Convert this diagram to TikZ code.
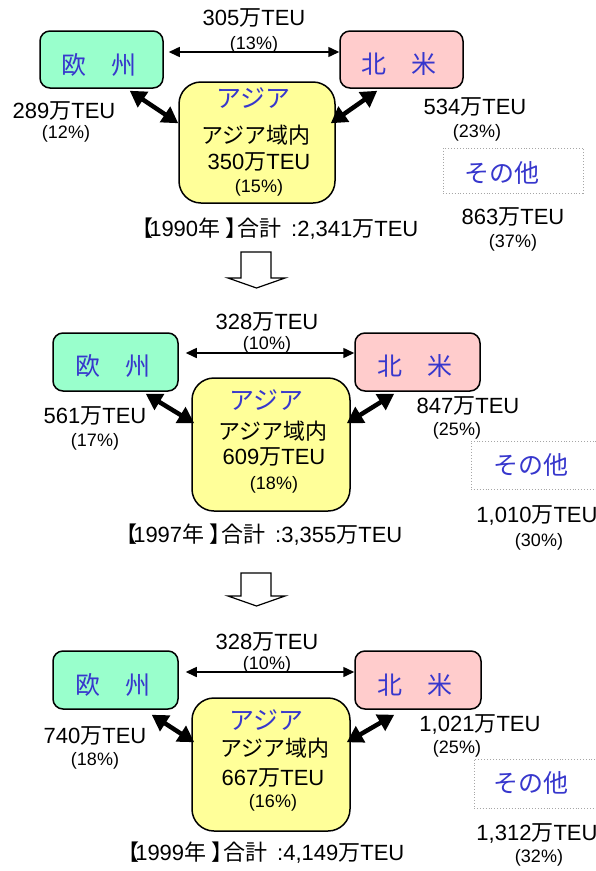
\documentclass[tikz,border=0pt]{standalone}
\usepackage{fontspec}
\setmainfont{Liberation Sans}
\newfontfamily\jpf{Noto Sans CJK JP}
\usetikzlibrary{arrows.meta,calc}
\newcommand{\wan}{{\jpf 万}}
\newcommand{\yeartitle}[2]{{\jpf 【}\kern-0.2em#1{\jpf 年 】\kern-0.45em合計}\hspace{0.45em}:#2\wan TEU}
\definecolor{eucol}{HTML}{99FFCC}
\definecolor{nacol}{HTML}{FFCCCC}
\definecolor{asiacol}{HTML}{FFFF99}
\definecolor{bluetxt}{RGB}{55,55,205}
\tikzset{
  region/.style={draw=black, line width=1.5pt, rounded corners=10pt, inner sep=0},
  asiabox/.style={draw=black, line width=1.5pt, rounded corners=22pt, fill=asiacol, inner sep=0},
  otherbox/.style={draw=gray!70, dotted, line width=0.9pt, fill=white, inner sep=0},
  lbl/.style={inner sep=0, font=\fontsize{22}{24}\selectfont},
  pct/.style={inner sep=0, font=\fontsize{18}{20}\selectfont},
  jlbl/.style={inner sep=0, font=\jpf\fontsize{22}{24}\selectfont},
  bluejp/.style={inner sep=0, text=bluetxt, font=\jpf\fontsize{25}{28}\selectfont},
  harrow/.style={line width=1.5pt, {Triangle[length=11pt,width=10pt]}-{Triangle[length=11pt,width=10pt]}},
  tarrow/.style={line width=4.5pt, {Triangle[length=16pt,width=18pt]}-{Triangle[length=16pt,width=18pt]}},
  blockarrow/.style={draw=black, line width=1.2pt, fill=white, line join=miter}
}
\begin{document}
\begin{tikzpicture}[x=1pt,y=-1pt]
\useasboundingbox[fill=white] (0,0) rectangle (596,871);

% ---------------- Panel 1 (1990) ----------------
\node[region, fill=eucol, minimum width=123pt, minimum height=57pt] (EU1) at (101.5,59.5) {};
\node[region, fill=nacol, minimum width=123pt, minimum height=57pt] (NA1) at (401.5,59.5) {};
\node[asiabox, minimum width=156pt, minimum height=121pt] (AS1) at (257,142.5) {};
\node[otherbox, minimum width=140pt, minimum height=45pt] (OT1) at (513,170.5) {};
\node[bluejp] (EU1t) at ($(EU1.center)+(-3,5)$) {欧　州};
\node[bluejp] (NA1t) at ($(NA1.center)+(-3,5)$) {北　米};
\node[bluejp] (OT1t) at (502,173) {その他};
\node[bluejp] (AS1t) at (253,98) {アジア};
\node[jlbl] (AS1a) at (256,135) {アジア域内};
\node[lbl] (AS1b) at (259,162) {350\wan TEU};
\node[pct] (AS1c) at (259,188) {(15\%)};
\node[lbl] (L1a) at (254,18) {305\wan TEU};
\node[pct] (L1b) at (254,45) {(13\%)};
\node[lbl] (L1c) at (64,111) {289\wan TEU};
\node[pct] (L1d) at (66,134) {(12\%)};
\node[lbl] (L1e) at (475,107) {534\wan TEU};
\node[pct] (L1f) at (477,133) {(23\%)};
\node[lbl] (L1g) at (513,217) {863\wan TEU};
\node[pct] (L1h) at (513,243) {(37\%)};
\node[lbl] (T1) at (275,229) {\yeartitle{1990}{2,341}};
\draw[harrow] ($(EU1.east)+(5,-7.5)$) -- ($(NA1.west)+(0,-7.5)$);
\draw[tarrow] ($(EU1.south east)+(-34,2)$) -- ($(AS1.north west)+(0,42)$);
\draw[tarrow] ($(NA1.south west)+(38,2)$) -- ($(AS1.north east)+(-5,42)$);

% block arrow 1
\draw[blockarrow] (241,252) -- (271,252) -- (271,278) -- (285,278) -- (256.5,288) -- (228,278) -- (241,278) -- cycle;

% ---------------- Panel 2 (1997) ----------------
\node[region, fill=eucol, minimum width=125pt, minimum height=58pt] (EU2) at (115.5,362) {};
\node[region, fill=nacol, minimum width=125pt, minimum height=58pt] (NA2) at (417.5,362) {};
\node[asiabox, minimum width=158pt, minimum height=133pt] (AS2) at (271,444.5) {};
\node[otherbox, minimum width=130pt, minimum height=48pt] (OT2) at (536,465) {};
\node[bluejp] (EU2t) at ($(EU2.center)+(-3,4)$) {欧　州};
\node[bluejp] (NA2t) at ($(NA2.center)+(-3,4)$) {北　米};
\node[bluejp] (OT2t) at (531,465) {その他};
\node[bluejp] (AS2t) at (266,400) {アジア};
\node[jlbl] (AS2a) at (273,431) {アジア域内};
\node[lbl] (AS2b) at (274,457) {609\wan TEU};
\node[pct] (AS2c) at (274,485) {(18\%)};
\node[lbl] (L2a) at (267,322) {328\wan TEU};
\node[pct] (L2b) at (267,345) {(10\%)};
\node[lbl] (L2c) at (95,416) {561\wan TEU};
\node[pct] (L2d) at (95,442) {(17\%)};
\node[lbl] (L2e) at (468,406) {847\wan TEU};
\node[pct] (L2f) at (457,431) {(25\%)};
\node[lbl] (L2g) at (537,515) {1,010\wan TEU};
\node[pct] (L2h) at (539,542) {(30\%)};
\node[lbl] (T2) at (259,535) {\yeartitle{1997}{3,355}};
\draw[harrow] ($(EU2.east)+(7,-9)$) -- ($(NA2.west)+(0,-9)$);
\draw[tarrow] ($(EU2.south east)+(-33,2)$) -- ($(AS2.north west)+(3,46)$);
\draw[tarrow] ($(NA2.south west)+(40,2)$) -- ($(AS2.north east)+(-4,46)$);

% block arrow 2
\draw[blockarrow] (241,573) -- (271,573) -- (271,596) -- (285,596) -- (256.5,606) -- (228,596) -- (241,596) -- cycle;

% ---------------- Panel 3 (1999) ----------------
\node[region, fill=eucol, minimum width=125pt, minimum height=58pt] (EU3) at (115.5,680) {};
\node[region, fill=nacol, minimum width=126pt, minimum height=58pt] (NA3) at (418,680) {};
\node[asiabox, minimum width=158pt, minimum height=133pt] (AS3) at (271,764.5) {};
\node[otherbox, minimum width=126pt, minimum height=49pt] (OT3) at (537,783.5) {};
\node[bluejp] (EU3t) at ($(EU3.center)+(-3,5)$) {欧　州};
\node[bluejp] (NA3t) at ($(NA3.center)+(-3,5)$) {北　米};
\node[bluejp] (OT3t) at (531,783) {その他};
\node[bluejp] (AS3t) at (266,720) {アジア};
\node[jlbl] (AS3a) at (275,748) {アジア域内};
\node[lbl] (AS3b) at (273,778) {667\wan TEU};
\node[pct] (AS3c) at (273,803) {(16\%)};
\node[lbl] (L3a) at (267,642) {328\wan TEU};
\node[pct] (L3b) at (267,665) {(10\%)};
\node[lbl] (L3c) at (95,736) {740\wan TEU};
\node[pct] (L3d) at (95,761) {(18\%)};
\node[lbl] (L3e) at (480,724) {1,021\wan TEU};
\node[pct] (L3f) at (457,749) {(25\%)};
\node[lbl] (L3g) at (537,833) {1,312\wan TEU};
\node[pct] (L3h) at (539,858) {(32\%)};
\node[lbl] (T3) at (261,853) {\yeartitle{1999}{4,149}};
\draw[harrow] ($(EU3.east)+(7,-8)$) -- ($(NA3.west)+(0,-8)$);
\draw[tarrow] ($(EU3.south east)+(-27,5)$) -- ($(AS3.north west)+(3,45)$);
\draw[tarrow] ($(NA3.south west)+(40,5)$) -- ($(AS3.north east)+(-4,45)$);
\end{tikzpicture}
\end{document}
